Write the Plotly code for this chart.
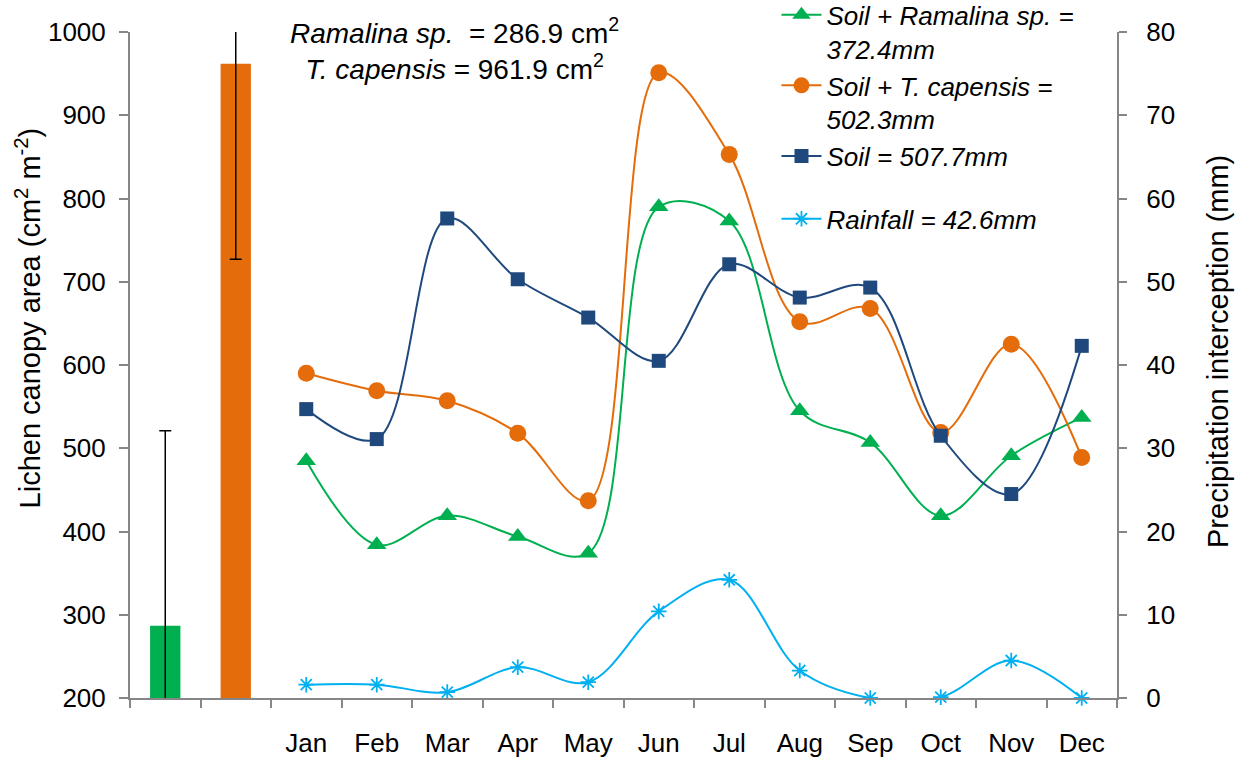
import plotly.graph_objects as go

categories = ["R", "T", "Jan", "Feb", "Mar", "Apr", "May", "Jun", "Jul", "Aug", "Sep", "Oct", "Nov", "Dec"]
tick_labels = ["", "", "Jan", "Feb", "Mar", "Apr", "May", "Jun", "Jul", "Aug", "Sep", "Oct", "Nov", "Dec"]
months = categories[2:]

bar_cats = ["R", "T"]
canopy_area = [286.9, 961.9]
canopy_err = [234, 235]
bar_colors = ["#00B050", "#E46C0A"]

soil_ramalina = [28.5, 18.4, 21.9, 19.4, 17.4, 59.0, 57.3, 34.5, 30.7, 21.9, 29.1, 33.7]
soil_tcapensis = [39.0, 36.9, 35.7, 31.8, 23.7, 75.1, 65.3, 45.2, 46.8, 31.9, 42.5, 28.9]
soil_only = [34.7, 31.1, 57.6, 50.3, 45.7, 40.5, 52.1, 48.1, 49.3, 31.5, 24.5, 42.3]
rainfall = [1.6, 1.6, 0.7, 3.7, 1.9, 10.4, 14.2, 3.3, 0.0, 0.1, 4.5, 0.0]

FONT = "Liberation Sans, Arial, sans-serif"
AX = "#868686"

fig = go.Figure()

fig.add_trace(go.Bar(
    x=bar_cats, y=canopy_area, width=0.43,
    marker=dict(color=bar_colors, line=dict(width=0)),
    error_y=dict(type="data", array=canopy_err, color="black", thickness=1.5, width=6),
    showlegend=False, yaxis="y",
))

line_specs = [
    (soil_ramalina, "<i>Soil + Ramalina sp. =<br>372.4mm</i>", "#00B050", "triangle-up", 17),
    (soil_tcapensis, "<i>Soil + T. capensis =<br>502.3mm</i>", "#E46C0A", "circle", 17),
    (soil_only, "<i>Soil = 507.7mm</i>", "#1F497D", "square", 14),
]
for vals, name, col, sym, sz in line_specs:
    fig.add_trace(go.Scatter(
        x=months, y=vals, name=name, yaxis="y2", mode="lines+markers",
        legendgroup="soil",
        line=dict(color=col, width=2, shape="spline", smoothing=1.0),
        marker=dict(symbol=sym, size=sz, color=col),
        cliponaxis=False,
    ))

fig.add_trace(go.Scatter(
    x=months, y=rainfall, name="<i>Rainfall = 42.6mm</i>", yaxis="y2", mode="lines+markers",
    legendgroup="rain",
    line=dict(color="#00B0F0", width=2, shape="spline", smoothing=1.0),
    marker=dict(symbol="asterisk-open", size=13, color="#00B0F0", line=dict(color="#00B0F0", width=1.8)),
    cliponaxis=False,
))

fig.update_layout(
    width=1244, height=761,
    margin=dict(l=130, r=127, t=32, b=63, autoexpand=False),
    paper_bgcolor="white", plot_bgcolor="white",
    font=dict(family=FONT, size=24, color="black"),
    showlegend=True,
    legend=dict(
        x=0.655, y=1.061, xanchor="left", yanchor="top",
        bgcolor="rgba(0,0,0,0)", font=dict(size=26, family=FONT),
        valign="top", tracegroupgap=26, itemwidth=40, traceorder="grouped",
    ),
    xaxis=dict(
        type="category", categoryorder="array", categoryarray=categories,
        tickvals=categories, ticktext=tick_labels,
        range=[-0.5, 13.5], tickson="boundaries",
        ticks="outside", ticklen=8, tickcolor=AX, tickwidth=1.5,
        showline=True, linecolor=AX, linewidth=2, showgrid=False, zeroline=False,
        tickfont=dict(size=26), ticklabelstandoff=21,
    ),
    yaxis=dict(
        range=[200, 1000], dtick=100, showgrid=False, zeroline=False,
        showline=True, linecolor=AX, linewidth=2,
        ticks="outside", ticklen=9, tickcolor=AX, tickwidth=1.5,
        tickfont=dict(size=26), ticklabelstandoff=8,
    ),
    yaxis2=dict(
        range=[0, 80], dtick=10, overlaying="y", side="right",
        showgrid=False, zeroline=False, showline=True, linecolor=AX, linewidth=2,
        ticks="outside", ticklen=8, tickcolor=AX, tickwidth=1.5,
        tickfont=dict(size=26), ticklabelstandoff=14,
    ),
    annotations=[
        dict(
            text="<i>Ramalina sp.</i>  = 286.9 cm<sup>2</sup><br><i>T. capensis</i> = 961.9 cm<sup>2</sup>",
            xref="paper", yref="paper", x=0.329, y=0.975, xanchor="center", yanchor="middle",
            showarrow=False, font=dict(size=28, family=FONT), align="center",
        ),
        dict(
            text="Lichen canopy area (cm<sup>2</sup> m<sup>-2</sup>)",
            xref="paper", yref="paper", x=-0.1033, y=0.57, xanchor="center", yanchor="middle",
            textangle=-90, showarrow=False, font=dict(size=29, family=FONT),
        ),
        dict(
            text="Precipitation interception (mm)",
            xref="paper", yref="paper", x=1.1023, y=0.521, xanchor="center", yanchor="middle",
            textangle=-90, showarrow=False, font=dict(size=29, family=FONT),
        ),
    ],
)

fig.write_html("out.html", config={"displayModeBar": False},
               post_script="document.body.style.margin='0';")
